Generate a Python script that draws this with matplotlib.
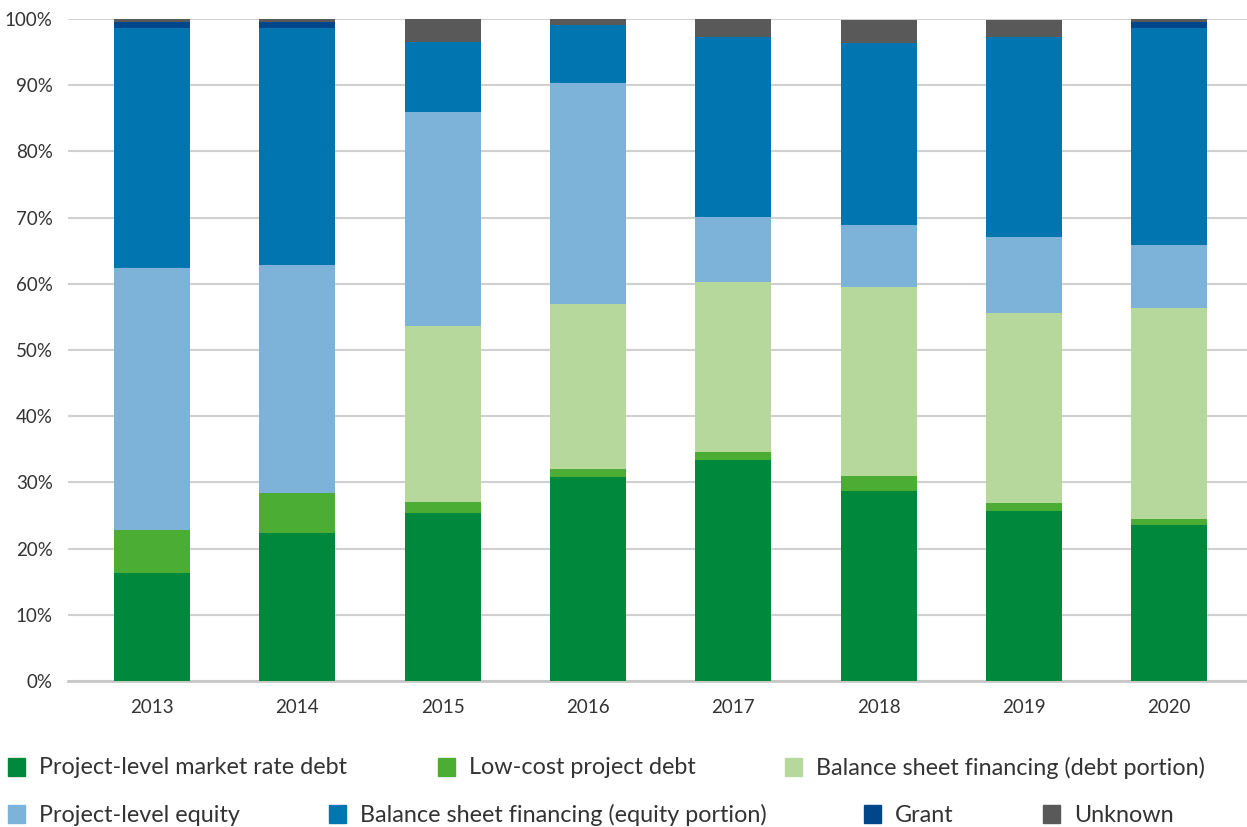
import numpy as np
import matplotlib
matplotlib.use("Agg")
import matplotlib.pyplot as plt
from matplotlib.patches import Rectangle
from matplotlib.ticker import PercentFormatter

plt.rcParams['font.family'] = ['Lato', 'DejaVu Sans']

years = ["2013", "2014", "2015", "2016", "2017", "2018", "2019", "2020"]

# shares of investment by financing source, in percent
market_debt = [16.3, 22.4, 25.4, 30.8, 33.4, 28.7, 25.7, 23.6]
low_cost_debt = [6.5, 6.0, 1.6, 1.2, 1.2, 2.3, 1.2, 0.9]
bs_debt = [0.0, 0.0, 26.6, 25.0, 25.7, 28.5, 28.7, 31.8]
project_equity = [39.6, 34.4, 32.4, 33.3, 9.8, 9.4, 11.5, 9.6]
bs_equity = [36.2, 35.8, 10.5, 8.8, 27.2, 27.5, 30.2, 32.7]
grant = [0.9, 0.9, 0.0, 0.0, 0.0, 0.0, 0.0, 0.9]
unknown = [0.5, 0.5, 3.5, 0.9, 2.7, 3.4, 2.5, 0.5]

series = [
    ("Project-level market rate debt", market_debt, "#00893c"),
    ("Low-cost project debt", low_cost_debt, "#4bad33"),
    ("Balance sheet financing (debt portion)", bs_debt, "#b6d89c"),
    ("Project-level equity", project_equity, "#7db3d8"),
    ("Balance sheet financing (equity portion)", bs_equity, "#0075af"),
    ("Grant", grant, "#00468b"),
    ("Unknown", unknown, "#595959"),
]

W, H = 1247, 827
fig = plt.figure(figsize=(W / 100, H / 100), dpi=100)
ax = fig.add_axes([68 / W, 1 - 681 / H, (W - 68) / W, (681 - 19) / H])

x = np.arange(len(years))
bottom = np.zeros(len(years))
for label, vals, color in series:
    vals = np.array(vals)
    ax.bar(x, vals, 0.523, bottom=bottom, color=color, label=label, zorder=3)
    bottom += vals

ax.set_ylim(0, 100)
ax.set_xlim(-0.578, 7.536)
ax.set_yticks(np.arange(0, 101, 10))
ax.yaxis.set_major_formatter(PercentFormatter(decimals=0))
ax.set_xticks(x)
ax.set_xticklabels(years)
ax.grid(axis="y", color="#d0d0d0", linewidth=1.5, zorder=0)
for s in ["top", "right", "left"]:
    ax.spines[s].set_visible(False)
ax.spines["bottom"].set_color("#c8c8c8")
ax.spines["bottom"].set_linewidth(2)
ax.tick_params(axis="both", length=0, labelsize=13.5, colors="#333333")
ax.tick_params(axis="y", pad=11)
ax.tick_params(axis="x", pad=13)

# legend laid out in two rows
legend_pos = [
    (8, 767), (438, 767), (785, 767),
    (8, 814), (329, 814), (864, 814), (1043, 814),
]
for (px, py), (label, vals, color) in zip(legend_pos, series):
    fig.patches.append(Rectangle((px / W, 1 - (py + 9) / H), 17 / W, 18 / H,
                                 transform=fig.transFigure, color=color))
    fig.text((px + 31) / W, 1 - (py + 1) / H, label, fontsize=16.8,
             color="#333333", va="center", ha="left")

fig.savefig("out.png", dpi=100)
